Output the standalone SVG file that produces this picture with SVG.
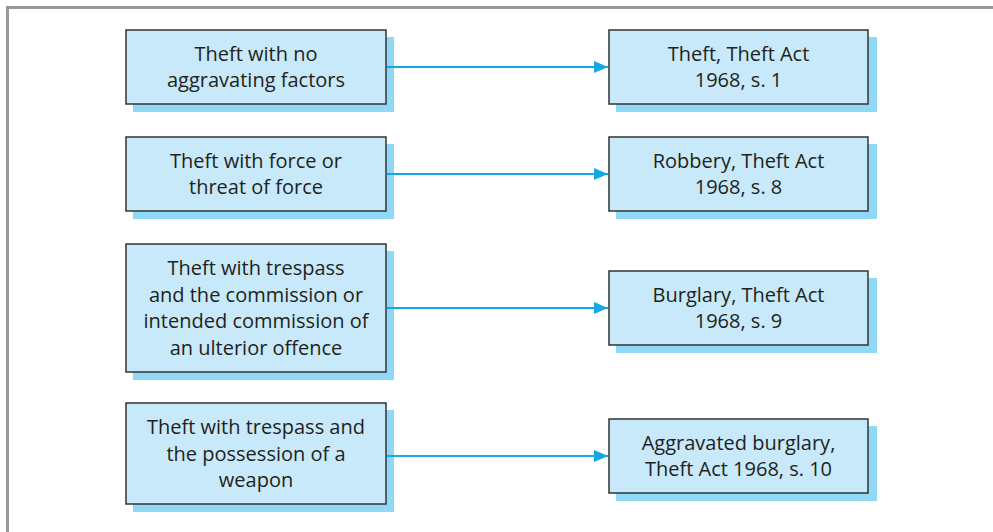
<svg xmlns="http://www.w3.org/2000/svg" width="993" height="532" viewBox="0 0 993 532">
<defs>
<style>
.frame{stroke:#999;stroke-width:3;fill:none}
.box{fill:#c7e9f9;stroke:#333;stroke-width:1.5}
.sh{fill:#8fd8f6}
.t{font-family:"Open Sans","Noto Sans",sans-serif;font-size:20px;fill:#231f20;text-anchor:middle}
.c{stroke:#14a8e6;stroke-width:2.2;fill:none}
</style>
<marker id="ah" markerWidth="14" markerHeight="12" refX="14" refY="6" orient="auto" markerUnits="userSpaceOnUse">
<path d="M0,0 L14,6 L0,12 Z" fill="#14a8e6"/>
</marker>
</defs>
<rect width="993" height="532" fill="#fff"/>
<path class="frame" d="M7.5,532 V7.5 H993"/>
<g id="n1">
<rect class="sh" x="133" y="37" width="261" height="75"/>
<rect class="box" x="126" y="30" width="260" height="74"/>
<text class="t" x="256" y="60.5">Theft with no</text>
<text class="t" x="256" y="86.5">aggravating factors</text>
</g>
<g id="n2">
<rect class="sh" x="616" y="37" width="261" height="75"/>
<rect class="box" x="609" y="30" width="259" height="74"/>
<text class="t" x="738.5" y="60.5">Theft, Theft Act</text>
<text class="t" x="738.5" y="86.5">1968, s. 1</text>
</g>
<g id="n3">
<rect class="sh" x="133" y="144" width="261" height="75"/>
<rect class="box" x="126" y="137" width="260" height="74"/>
<text class="t" x="256" y="167.5">Theft with force or</text>
<text class="t" x="256" y="193.5">threat of force</text>
</g>
<g id="n4">
<rect class="sh" x="616" y="144" width="261" height="75"/>
<rect class="box" x="609" y="137" width="259" height="74"/>
<text class="t" x="738.5" y="167.5">Robbery, Theft Act</text>
<text class="t" x="738.5" y="193.5">1968, s. 8</text>
</g>
<g id="n5">
<rect class="sh" x="133" y="251" width="261" height="129"/>
<rect class="box" x="126" y="244" width="260" height="128"/>
<text class="t" x="256" y="275">Theft with trespass</text>
<text class="t" x="256" y="301.5">and the commission or</text>
<text class="t" x="256" y="328">intended commission of</text>
<text class="t" x="256" y="354.5">an ulterior offence</text>
</g>
<g id="n6">
<rect class="sh" x="616" y="278" width="261" height="75"/>
<rect class="box" x="609" y="271" width="259" height="74"/>
<text class="t" x="738.5" y="301.5">Burglary, Theft Act</text>
<text class="t" x="738.5" y="327.5">1968, s. 9</text>
</g>
<g id="n7">
<rect class="sh" x="133" y="410" width="261" height="102"/>
<rect class="box" x="126" y="403" width="260" height="101"/>
<text class="t" x="256" y="434">Theft with trespass and</text>
<text class="t" x="256" y="460.5">the possession of a</text>
<text class="t" x="256" y="487">weapon</text>
</g>
<g id="n8">
<rect class="sh" x="616" y="426" width="261" height="75"/>
<rect class="box" x="609" y="419" width="259" height="74"/>
<text class="t" x="738.5" y="449.5">Aggravated burglary,</text>
<text class="t" x="738.5" y="475.5">Theft Act 1968, s. 10</text>
</g>
<g id="connectors">
<line class="c" x1="386.75" y1="67" x2="608" y2="67" marker-end="url(#ah)"/>
<line class="c" x1="386.75" y1="174" x2="608" y2="174" marker-end="url(#ah)"/>
<line class="c" x1="386.75" y1="308" x2="608" y2="308" marker-end="url(#ah)"/>
<line class="c" x1="386.75" y1="456" x2="608" y2="456" marker-end="url(#ah)"/>
</g>
</svg>
